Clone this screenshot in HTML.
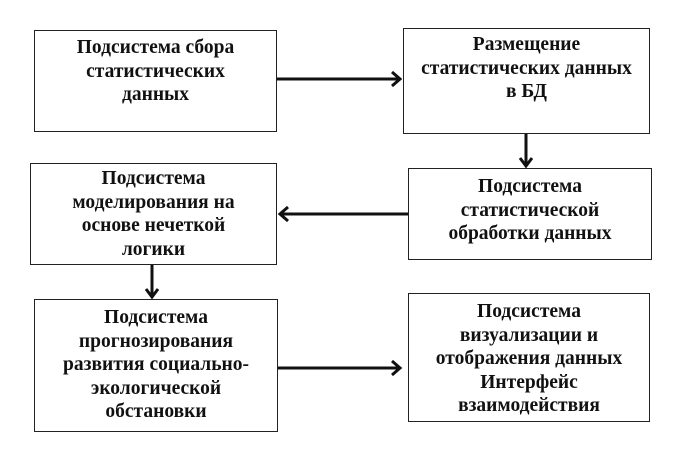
<!DOCTYPE html>
<html><head><meta charset="utf-8"><style>
body{margin:0;background:#fff;width:678px;height:454px;position:relative;overflow:hidden;font-family:"Liberation Serif",serif;font-weight:bold;}
.b{position:absolute;border:1.5px solid #222;box-sizing:border-box;text-align:center;font-size:19.5px;line-height:23.5px;color:#111;white-space:nowrap;}
</style></head><body>
<div class="b" style="left:34px;top:30px;width:243px;height:102px;padding-top:5px">Подсистема сбора<br>статистических<br>данных</div>
<div class="b" style="left:403px;top:28px;width:247px;height:106px;padding-top:4px">Размещение<br>статистических данных<br>в БД</div>
<div class="b" style="left:30px;top:163px;width:247px;height:102px;padding-top:3px">Подсистема<br>моделирования на<br>основе нечеткой<br>логики</div>
<div class="b" style="left:408px;top:168px;width:244px;height:92px;padding-top:6px">Подсистема<br>статистической<br>обработки данных</div>
<div class="b" style="left:34px;top:299px;width:244px;height:133px;padding-top:6px">Подсистема<br>прогнозирования<br>развития социально-<br>экологической<br>обстановки</div>
<div class="b" style="left:408px;top:293px;width:242px;height:129px;padding-top:6px">Подсистема<br>визуализации и<br>отображения данных<br>Интерфейс<br>взаимодействия</div>
<svg width="678" height="454" style="position:absolute;left:0;top:0" fill="none" stroke="#111" stroke-width="3">
<line x1="277" y1="79" x2="400" y2="79"/><polyline points="392,72 400,79 392,86"/>
<line x1="526" y1="134" x2="526" y2="166"/><polyline points="520,158 526,166 532,158"/>
<line x1="408" y1="214" x2="280" y2="214"/><polyline points="288,207 280,214 288,221"/>
<line x1="152" y1="265" x2="152" y2="297"/><polyline points="146,289 152,297 158,289"/>
<line x1="278" y1="368" x2="400" y2="368"/><polyline points="392,361 400,368 392,375"/>
</svg>
</body></html>
